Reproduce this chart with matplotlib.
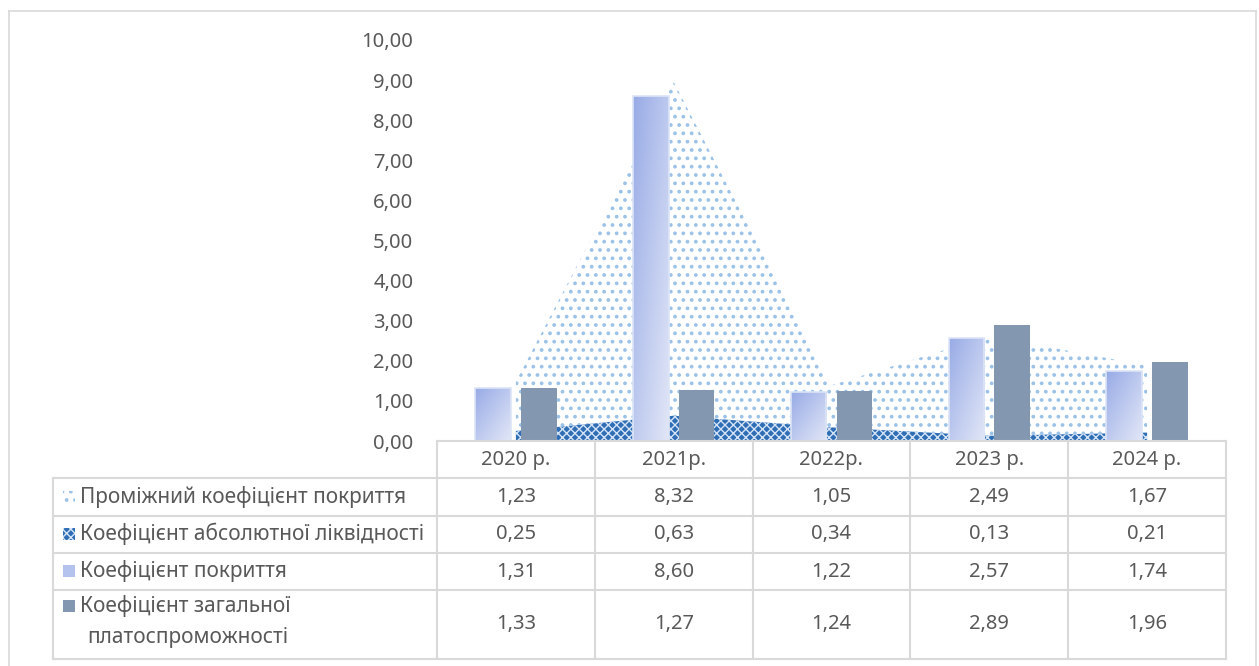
import numpy as np
import matplotlib.pyplot as plt
from matplotlib.patches import Rectangle
from matplotlib.lines import Line2D
from matplotlib.ticker import FuncFormatter

plt.rcParams['font.family'] = ['Noto Sans', 'DejaVu Sans']

years = ['2020 р.', '2021р.', '2022р.', '2023 р.', '2024 р.']
interim_cov = [1.23, 8.32, 1.05, 2.49, 1.67]
abs_liquidity = [0.25, 0.63, 0.34, 0.13, 0.21]
coverage = [1.31, 8.60, 1.22, 2.57, 1.74]
solvency = [1.33, 1.27, 1.24, 2.89, 1.96]

series_names = ['Проміжний коефіцієнт покриття',
                'Коефіцієнт абсолютної ліквідності',
                'Коефіцієнт покриття',
                'Коефіцієнт загальної\nплатоспроможності']

TEXT = '#595959'
GRID = '#D9D9D9'
DOT_BLUE = '#9CC2E8'
HATCH_FACE = '#2F6DB5'
HATCH_LINE = '#D4E4F6'
GRAD_DARK = np.array([0x98, 0xAB, 0xE6]) / 255
GRAD_LIGHT = np.array([0xE2, 0xE7, 0xF7]) / 255
SLATE = '#8497B0'

W, H = 1259, 666
fig = plt.figure(figsize=(W / 100, H / 100), dpi=100)


def fx(px):
    return px / W


def fy(py):
    return 1 - py / H


# outer frame
fig.add_artist(Line2D([fx(9), fx(9)], [fy(11), fy(666)], color=GRID, lw=1.2))
fig.add_artist(Line2D([fx(9), fx(1256)], [fy(11), fy(11)], color=GRID, lw=1.2))
fig.add_artist(Line2D([fx(1256), fx(1256)], [fy(11), fy(666)], color=GRID, lw=1.2))

x0, x1 = 437, 1226
ytop, ybot = 40, 441
ax = fig.add_axes([fx(x0), fy(ybot), fx(x1 - x0), fy(ytop) - fy(ybot)])
x = np.arange(len(years))

# stacked areas behind the bars
abs_arr = np.array(abs_liquidity)
top_arr = abs_arr + np.array(interim_cov)
with plt.rc_context({'hatch.linewidth': 1.0}):
    ax.fill_between(x, 0, abs_arr, facecolor=HATCH_FACE, edgecolor=HATCH_LINE,
                    hatch='xxxx', linewidth=0, zorder=1)
with plt.rc_context({'hatch.linewidth': 1.5}):
    ax.fill_between(x, abs_arr, top_arr, facecolor='none', edgecolor=DOT_BLUE,
                    hatch='..', linewidth=0, zorder=1)

bw = 0.225
off = 0.145
bars = ax.bar(x - off, coverage, bw, color='none', edgecolor='#DCE4F6',
              linewidth=1.2, zorder=3)
ax.bar(x + off, solvency, bw, color=SLATE, linewidth=0, zorder=3)

# diagonal gradient fill for the coverage bars
n = 64
u = np.linspace(0, 1, n)
uu, vv = np.meshgrid(u, u)
t = (uu + vv) / 2
grad = GRAD_DARK[None, None, :] * (1 - t[..., None]) + GRAD_LIGHT[None, None, :] * t[..., None]
for b in bars:
    bx, by = b.get_x(), b.get_y()
    im = ax.imshow(grad, extent=[bx, bx + b.get_width(), by, by + b.get_height()],
                   origin='upper', aspect='auto', zorder=2, interpolation='bilinear')
    im.set_clip_path(b)

fs = 14.5
ax.set_xlim(-0.5, len(years) - 0.5)
ax.set_ylim(0, 10)
ax.set_yticks(np.arange(0, 11, 1))
ax.yaxis.set_major_formatter(FuncFormatter(lambda v, p: f'{v:.2f}'.replace('.', ',')))
ax.tick_params(axis='y', length=0, pad=17, labelsize=fs, labelcolor=TEXT)
ax.set_xticks([])
for s in ax.spines.values():
    s.set_visible(False)
ax.patch.set_alpha(0)

# data table below the plot
col_edges = np.linspace(x0, x1, len(years) + 1)
row_edges = [441, 478, 516, 553, 590, 659]
lab_left = 53
line_kw = dict(color=GRID, lw=1.5)

fig.add_artist(Line2D([fx(x0), fx(x1)], [fy(row_edges[0])] * 2, **line_kw))
for ry in row_edges[1:]:
    fig.add_artist(Line2D([fx(lab_left), fx(x1)], [fy(ry)] * 2, **line_kw))
fig.add_artist(Line2D([fx(lab_left)] * 2, [fy(row_edges[1]), fy(row_edges[-1])], **line_kw))
for cx in col_edges:
    fig.add_artist(Line2D([fx(cx)] * 2, [fy(row_edges[0]), fy(row_edges[-1])], **line_kw))

for i, yr in enumerate(years):
    cx = (col_edges[i] + col_edges[i + 1]) / 2
    fig.text(fx(cx), fy((row_edges[0] + row_edges[1]) / 2), yr, ha='center', va='center',
             fontsize=fs, color=TEXT)

rows = [interim_cov, abs_liquidity, coverage, solvency]
for r, vals in enumerate(rows):
    cy = (row_edges[r + 1] + row_edges[r + 2]) / 2
    for i, v in enumerate(vals):
        cx = (col_edges[i] + col_edges[i + 1]) / 2
        fig.text(fx(cx), fy(cy), f'{v:.2f}'.replace('.', ','), ha='center', va='center',
                 fontsize=fs, color=TEXT)

# row labels with their legend keys
label_fs = 15
key_x, key_s = 63, 12
label_y = [497, 534, 571, 606]
for r, name in enumerate(series_names):
    ky = label_y[r]
    box = ((fx(key_x), fy(ky + key_s / 2)), fx(key_s), key_s / H)
    if r == 0:
        with plt.rc_context({'hatch.linewidth': 1.5}):
            key = Rectangle(*box, facecolor='white', edgecolor=DOT_BLUE, hatch='..', lw=0)
    elif r == 1:
        key = Rectangle(*box, facecolor=HATCH_FACE, edgecolor=HATCH_LINE, hatch='xxxx', lw=0)
    elif r == 2:
        key = Rectangle(*box, facecolor='#B4C2EE', lw=0)
    else:
        key = Rectangle(*box, facecolor=SLATE, lw=0)
    fig.add_artist(key)
    lines = name.split('\n')
    fig.text(fx(80), fy(ky), lines[0], ha='left', va='center', fontsize=label_fs, color=TEXT)
    if len(lines) > 1:
        fig.text(fx(87), fy(ky + 31), lines[1], ha='left', va='center', fontsize=label_fs,
                 color=TEXT)

fig.savefig('out.png', dpi=100)
